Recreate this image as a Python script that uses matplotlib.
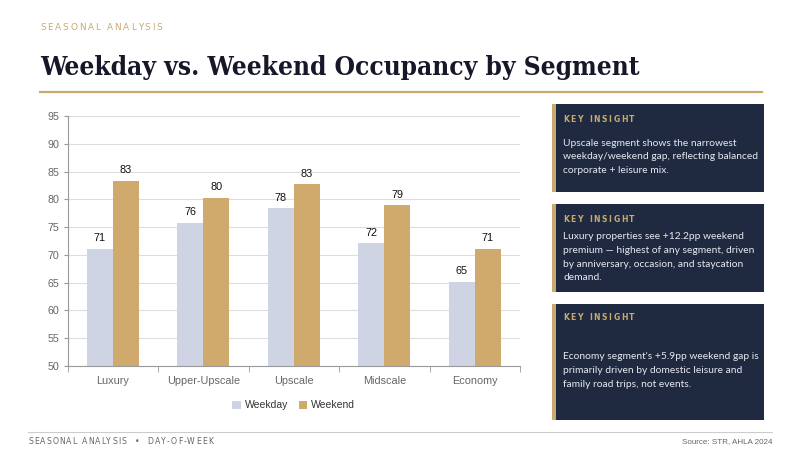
import matplotlib
matplotlib.use("Agg")
import matplotlib.pyplot as plt
from matplotlib.patches import Rectangle
from matplotlib.lines import Line2D
import numpy as np

categories = ["Luxury", "Upper-Upscale", "Upscale", "Midscale", "Economy"]
weekday = [71.1, 75.8, 78.4, 72.1, 65.2]
weekend = [83.3, 80.3, 82.7, 78.9, 71.1]
series_names = ["Weekday", "Weekend"]
y_ticks = [50, 55, 60, 65, 70, 75, 80, 85, 90, 95]

kicker = "SEASONAL ANALYSIS"
title = "Weekday vs. Weekend Occupancy by Segment"
footer_left = "SEASONAL ANALYSIS  •  DAY-OF-WEEK"
footer_right = "Source: STR, AHLA 2024"
card_label = "KEY INSIGHT"
insights = [
    ["Upscale segment shows the narrowest",
     "weekday/weekend gap, reflecting balanced",
     "corporate + leisure mix."],
    ["Luxury properties see +12.2pp weekend",
     "premium — highest of any segment, driven",
     "by anniversary, occasion, and staycation",
     "demand."],
    ["Economy segment's +5.9pp weekend gap is",
     "primarily driven by domestic leisure and",
     "family road trips, not events."],
]

W, H = 800, 450
C_WEEKDAY = "#CED4E4"
C_WEEKEND = "#CFAA6C"
GOLD = "#C9A96E"
NAVY = "#1F2940"

fig = plt.figure(figsize=(8, 4.5), dpi=100)
fig.patch.set_facecolor("white")
renderer = fig.canvas.get_renderer()

def fx(px):
    return px / W

def fy(py):
    return 1 - py / H

def _w(s, **kw):
    t = fig.text(0, 0, s, **kw)
    w = t.get_window_extent(renderer).width
    t.remove()
    return w

def spaced_text(x_px, y_px, s, spacing_px, **kw):
    # letter-spaced text: per-glyph advance measured between two bar glyphs
    base = _w("||", **kw)
    xi = x_px
    for ch in s:
        adv = _w("|" + ch + "|", **kw) - base
        if ch != " ":
            fig.text(fx(xi), fy(y_px), ch, ha="left", va="center", **kw)
        xi += adv + spacing_px

# Header
spaced_text(40, 27, kicker, 1.8, color=GOLD, fontsize=6.4, family="DejaVu Sans")

tt = fig.text(fx(40), fy(68), title, ha="left", va="center", color="#16182A",
              fontsize=20, fontweight="bold", family="DejaVu Serif", stretch="condensed")
wext = tt.get_window_extent(renderer).width
tt.set_fontsize(20 * 598 / wext)

fig.add_artist(Line2D([fx(40), fx(762)], [fy(92), fy(92)], color=GOLD, lw=1.6))

# Chart
ax_left, ax_right, ax_top, ax_bottom = 67.5, 520, 116, 366
ax = fig.add_axes([fx(ax_left), fy(ax_bottom), fx(ax_right - ax_left), (ax_bottom - ax_top) / H])
x = np.arange(len(categories))
bw = 0.29
b1 = ax.bar(x - bw / 2, weekday, bw, color=C_WEEKDAY, label=series_names[0], zorder=2)
b2 = ax.bar(x + bw / 2, weekend, bw, color=C_WEEKEND, label=series_names[1], zorder=2)
for bars, vals in ((b1, weekday), (b2, weekend)):
    for r, v in zip(bars, vals):
        ax.annotate(f"{round(v):d}", (r.get_x() + r.get_width() / 2, v), xytext=(0, 4),
                    textcoords="offset points", ha="center", va="bottom",
                    fontsize=7.8, color="#111111", family="Liberation Sans")
ax.set_ylim(50, 95)
ax.set_xlim(-0.5, len(categories) - 0.5)
ax.set_yticks(y_ticks)
ax.set_yticklabels([str(t) for t in y_ticks], family="Liberation Sans", fontsize=7.7, color="#666666")
ax.yaxis.grid(True, color="#DDDDDD", lw=0.8, zorder=0)
ax.set_axisbelow(True)
ax.set_xticks(x)
ax.set_xticklabels(categories, family="Liberation Sans", fontsize=7.8, color="#666666")
ax.tick_params(axis="x", length=0, pad=7)
ax.set_xticks(np.arange(-0.5, len(categories)), minor=True)
ax.tick_params(axis="x", which="minor", length=4, color="#999999", direction="out")
ax.tick_params(axis="y", length=3, color="#999999", pad=3)
for s in ("top", "right"):
    ax.spines[s].set_visible(False)
ax.spines["left"].set_color("#999999")
ax.spines["bottom"].set_color("#999999")
ax.set_facecolor("white")

leg = ax.legend(loc="upper center", bbox_to_anchor=(0.5, -0.1), ncol=2, frameon=False,
                handlelength=0.8, handleheight=0.8, handletextpad=0.4, columnspacing=1.0,
                prop={"family": "Liberation Sans", "size": 7.5})
for t in leg.get_texts():
    t.set_color("#333333")

# Cards
cards = [(104, 191.5), (204, 291.5), (304, 420)]
label_y = [119, 219, 318]
text_y = [143, 236.5, 356.5]
for (top, bot), ly, ty, lines in zip(cards, label_y, text_y, insights):
    fig.add_artist(Rectangle((fx(552), fy(bot)), fx(212), (bot - top) / H,
                             facecolor=NAVY, edgecolor="none"))
    fig.add_artist(Rectangle((fx(552), fy(bot)), fx(4), (bot - top) / H,
                             facecolor=GOLD, edgecolor="none"))
    spaced_text(563, ly, card_label, 1.6, color=GOLD, fontsize=5.6, fontweight="bold",
                family="DejaVu Sans")
    for i, line in enumerate(lines):
        fig.text(fx(563), fy(ty + i * 13.8), line, ha="left", va="center",
                 color="#E6E9F0", fontsize=7.4, family="Lato")

# Footer
fig.add_artist(Line2D([fx(28), fx(772)], [fy(432), fy(432)], color="#CCCCCC", lw=0.8))
spaced_text(28, 441.5, footer_left, 1.1, color="#666666", fontsize=5.6, family="DejaVu Sans")
fig.text(fx(772), fy(441.5), footer_right, ha="right", va="center", color="#666666",
         fontsize=5.8, family="Liberation Sans")

fig.savefig("out.png", dpi=100, facecolor="white")
